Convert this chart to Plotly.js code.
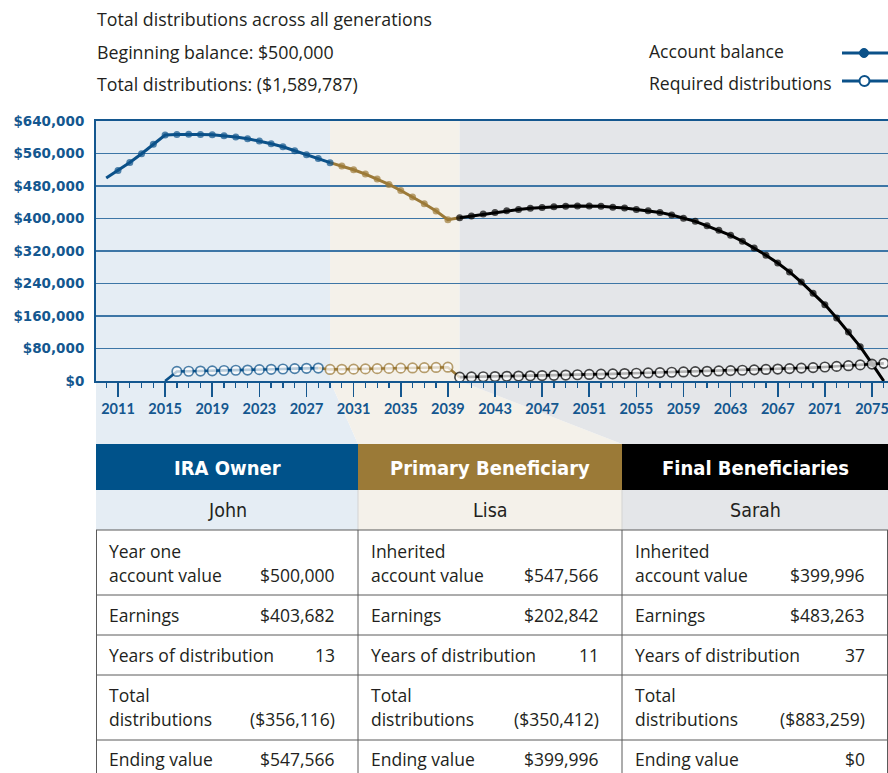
<!DOCTYPE html>
<html><head><meta charset="utf-8">
<script src="https://cdn.plot.ly/plotly-3.0.1.min.js"></script>
<style>html,body{margin:0;padding:0;background:#fff}#chart{width:888px;height:773px}</style>
</head><body><div id="chart"></div>
<script>
// ---------- DATA ----------
const years = [2010,2011,2012,2013,2014,2015,2016,2017,2018,2019,2020,2021,2022,2023,2024,2025,2026,2027,2028,2029,
  2030,2031,2032,2033,2034,2035,2036,2037,2038,2039,2040,2041,2042,2043,2044,2045,2046,2047,2048,2049,
  2050,2051,2052,2053,2054,2055,2056,2057,2058,2059,2060,2061,2062,2063,2064,2065,2066,2067,2068,2069,
  2070,2071,2072,2073,2074,2075,2076];
const accountBalance = [500000,518000,538000,559500,582500,605500,607000,607500,607000,606000,604000,600500,596500,591000,584000,576500,567000,557000,547566,537500,
  529000,520000,509500,497000,484000,469000,453000,436500,418500,397000,402000,406000,411000,415000,419000,422000,425000,427000,429000,430000,
  431000,431000,430000,428000,426000,422000,419000,415000,408500,400500,393000,382000,371000,358500,344000,327500,309500,290500,268500,243500,
  216000,188000,155000,120500,84500,43000,0];
const requiredDistributions = [null,null,null,null,null,0,23500,24000,24500,25000,25800,26500,27000,28000,28800,29600,30500,31300,31800,28500,
  28800,29200,29800,30400,31000,31600,32200,32800,33400,34000,9500,10000,10500,11000,11600,12200,12800,13400,14000,14700,
  15400,16100,16800,17500,18300,19100,19900,20700,21500,22300,23100,23900,24700,25600,26500,27400,28400,29400,30500,31700,
  33000,34500,36000,37700,39600,41600,43500];

const roles = ["IRA Owner","Primary Beneficiary","Final Beneficiaries"];
const people = ["John","Lisa","Sarah"];
const phaseFirstYear = [2010, 2029, 2040];
const firstValueLabel = [["Year one","account value"],["Inherited","account value"],["Inherited","account value"]];
const firstValue = ["$500,000","$547,566","$399,996"];
const earnings = ["$403,682","$202,842","$483,263"];
const yearsOfDistribution = ["13","11","37"];
const totalDistributions = ["($356,116)","($350,412)","($883,259)"];
const endingValue = ["$547,566","$399,996","$0"];
const headerLines = ["Total distributions across all generations","Beginning balance: $500,000","Total distributions: ($1,589,787)"];
const legendNames = ["Account balance","Required distributions"];

// ---------- STYLE ----------
const BLUE = "#0b5189", GOLD = "#9c7a38", BLACK = "#000000";
const phaseBg = ["#e5edf4", "#f4f1ea", "#e4e6e9"];
const headBg = ["#00528a", "#9b7a37", "#000000"];
const TICK = "#14578f", TEXT = "#231f20";
const FONT = "'Open Sans', Lato, sans-serif";
const NARROW = "'DejaVu Sans Condensed', Lato, sans-serif";
const TICKFONT = "Lato, 'Open Sans', sans-serif";
const YTICKFONT = "'DejaVu Sans', 'Open Sans', sans-serif";

const FW = 888, FH = 773;
const L = 96, R = 888, T = 121, B = 381, W = R - L, H = B - T;
const pxPerYear = 11.781;
const xRange = [2011 - (118 - L) / pxPerYear, 2011 + (R - 118) / pxPerYear];

const px = x => (x - L) / W;
const py = y => (B - y) / H;
const yearPx = yr => L + (yr - xRange[0]) * W / (xRange[1] - xRange[0]);

// ---------- TRACES ----------
function idx(yr) { return years.indexOf(yr); }
function segment(series, from, to, mFrom, mTo, color, open) {
  const xs = [], ys = [], sz = [];
  for (let i = idx(from); i <= idx(to); i++) {
    if (series[i] === null) continue;
    xs.push(years[i]); ys.push(series[i]);
    sz.push(years[i] >= mFrom && years[i] <= mTo ? (open ? 9.5 : 7) : 0);
  }
  return {
    type: "scatter", mode: "lines+markers", x: xs, y: ys, cliponaxis: false,
    hoverinfo: "x+y", showlegend: false,
    line: { color: color, width: open ? 2.6 : 3 },
    marker: open ? { size: sz, color: "#ffffff", line: { color: color, width: 1.7 } }
                 : { size: sz, color: color, line: { width: 0 } }
  };
}
const traces = [
  segment(accountBalance, 2029, 2040, 2030, 2039, GOLD, false),
  segment(accountBalance, 2010, 2029, 2011, 2029, BLUE, false),
  segment(accountBalance, 2040, 2076, 2040, 2075, BLACK, false),
  segment(requiredDistributions, 2028, 2040, 2029, 2039, GOLD, true),
  segment(requiredDistributions, 2015, 2028, 2016, 2028, BLUE, true),
  segment(requiredDistributions, 2040, 2076, 2040, 2076, BLACK, true)
];

// ---------- BACKGROUND / TABLE SHAPES ----------
const colX = [96, 358, 622, 888];
const headTop = 444, headBot = 490, nameBot = 530;
const rowLines = [530, 595, 635, 675, 740];
const shapes = [];
function poly(pts, fill, layer) {
  const d = pts.map((p, i) => (i ? "L" : "M") + px(p[0]).toFixed(5) + "," + py(p[1]).toFixed(5)).join(" ") + " Z";
  shapes.push({ type: "path", xref: "paper", yref: "paper", path: d, fillcolor: fill, line: { width: 0 }, layer: layer || "below" });
}
function rect(x0, y0, x1, y1, fill, layer) {
  shapes.push({ type: "rect", xref: "paper", yref: "paper", x0: px(x0), x1: px(x1), y0: py(y1), y1: py(y0),
    fillcolor: fill, line: { width: 0 }, layer: layer || "below" });
}
function line(x0, y0, x1, y1, color, w, layer) {
  shapes.push({ type: "line", xref: "paper", yref: "paper", x0: px(x0), x1: px(x1), y0: py(y0), y1: py(y1),
    line: { color: color, width: w }, layer: layer || "above" });
}
const b1 = yearPx(phaseFirstYear[1]), b2 = yearPx(phaseFirstYear[2]);
poly([[L, T], [b1, T], [b1, B], [colX[1], headTop], [colX[1], nameBot], [L, nameBot]], phaseBg[0]);
poly([[b1, T], [b2, T], [b2, B], [colX[2], headTop], [colX[2], nameBot], [colX[1], nameBot], [colX[1], headTop], [b1, B]], phaseBg[1]);
poly([[b2, T], [R, T], [R, nameBot], [colX[2], nameBot], [colX[2], headTop], [b2, B]], phaseBg[2]);
for (let c = 0; c < 3; c++) rect(colX[c], headTop, colX[c + 1], headBot, headBg[c], "above");
line(colX[1], headBot, colX[1], nameBot, "#d3d3d3", 1);
line(colX[2], headBot, colX[2], nameBot, "#d3d3d3", 1);
rowLines.forEach(y => line(L, y, R, y, "#5a5a5a", 1));
[96.5, 358, 622, 887.5].forEach(x => line(x, nameBot, x, FH + 2, "#5a5a5a", 1));
// legend glyphs
line(842, 53, 888, 53, BLUE, 3);
shapes.push({ type: "circle", xref: "paper", yref: "paper", x0: px(859.5), x1: px(868.5), y0: py(57.5), y1: py(48.5),
  fillcolor: BLUE, line: { color: BLUE, width: 1 }, layer: "above" });
line(842, 81, 888, 81, BLUE, 3);
shapes.push({ type: "circle", xref: "paper", yref: "paper", x0: px(859.5), x1: px(869.5), y0: py(86), y1: py(76),
  fillcolor: "#ffffff", line: { color: BLUE, width: 2 }, layer: "above" });

// ---------- TEXT ----------
const ann = [];
function text(s, x, y, anchor, size, color, bold, fam) {
  ann.push({ xref: "paper", yref: "paper", x: px(x), y: py(y), xanchor: anchor, yanchor: "middle",
    text: s, showarrow: false, borderpad: 0,
    font: { family: fam || FONT, size: size, color: color, weight: bold ? 700 : 400 } });
}
text(headerLines[0], 96, 19, "left", 17.8, TEXT);
text(headerLines[1], 96, 52, "left", 17.8, TEXT);
text(headerLines[2], 96, 84, "left", 17.8, TEXT);
text(legendNames[0], 648, 51, "left", 17.6, TEXT);
text(legendNames[1], 648, 83, "left", 17.6, TEXT);
const BS = 17.5;
for (let c = 0; c < 3; c++) {
  const cx = (colX[c] + colX[c + 1]) / 2, lx = colX[c] + 12, rx = colX[c + 1] - 22;
  text(roles[c], cx, 468, "center", 20, "#ffffff", true, NARROW);
  text(people[c], cx, 510, "center", 19.5, TEXT, false, NARROW);
  text(firstValueLabel[c][0], lx, 551, "left", BS, TEXT);
  text(firstValueLabel[c][1], lx, 575, "left", BS, TEXT);
  text(firstValue[c], rx, 575, "right", BS, TEXT);
  text("Earnings", lx, 615, "left", BS, TEXT);
  text(earnings[c], rx, 615, "right", BS, TEXT);
  text("Years of distribution", lx, 655, "left", BS, TEXT);
  text(yearsOfDistribution[c], rx, 655, "right", BS, TEXT);
  text("Total", lx, 695, "left", BS, TEXT);
  text("distributions", lx, 719, "left", BS, TEXT);
  text(totalDistributions[c], rx, 719, "right", BS, TEXT);
  text("Ending value", lx, 759, "left", BS, TEXT);
  text(endingValue[c], rx, 759, "right", BS, TEXT);
}

const layout = {
  width: FW, height: FH, autosize: false,
  margin: { l: L, r: FW - R, t: T, b: FH - B, pad: 0 },
  paper_bgcolor: "#ffffff", plot_bgcolor: "rgba(0,0,0,0)",
  showlegend: false,
  xaxis: {
    range: xRange, tickmode: "linear", tick0: 2011, dtick: 4,
    ticks: "outside", ticklen: 14, tickwidth: 1.6, tickcolor: TICK,
    showline: true, linecolor: TICK, linewidth: 2, mirror: true,
    showgrid: false, zeroline: false, ticklabeloverflow: "allow",
    tickfont: { family: TICKFONT, size: 14.5, color: TICK, weight: 700 },
    minor: { tick0: 2011, dtick: 1, ticks: "outside", ticklen: 5, tickwidth: 1.3, tickcolor: TICK, showgrid: false }
  },
  yaxis: {
    range: [0, 640000], tickmode: "linear", tick0: 0, dtick: 80000, tickformat: "$,.0f",
    showgrid: true, gridcolor: "#3d76a6", gridwidth: 1.3,
    showline: true, linecolor: TICK, linewidth: 2, zeroline: false,
    ticks: "outside", ticklen: 7, tickcolor: "rgba(0,0,0,0)",
    tickfont: { family: YTICKFONT, size: 13.5, color: TICK, weight: 700 }
  },
  shapes: shapes, annotations: ann
};
Plotly.newPlot("chart", traces, layout, { displayModeBar: false, staticPlot: true });
</script></body></html>
